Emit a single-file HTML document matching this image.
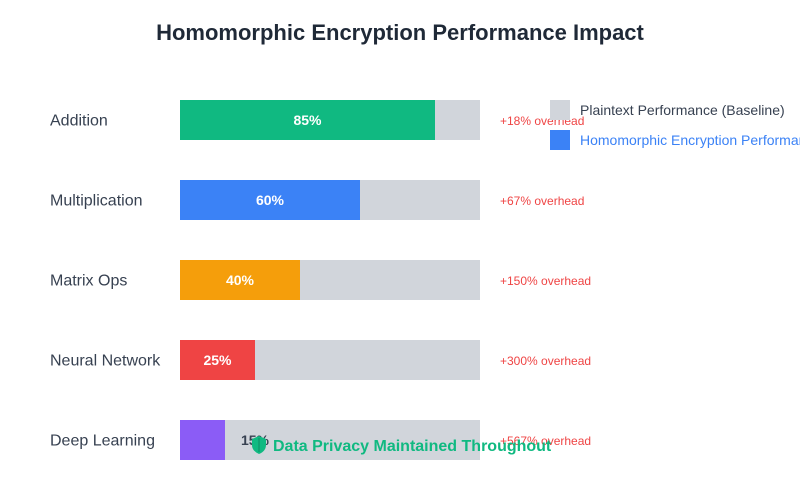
<!DOCTYPE html>
<html><head><meta charset="utf-8"><style>html,body{margin:0;padding:0;background:#fff}svg{display:block}</style></head>
<body>
<svg width="800" height="500" xmlns="http://www.w3.org/2000/svg" font-family="Liberation Sans, sans-serif">
<text x="400" y="40" text-anchor="middle" font-size="22" font-weight="bold" fill="#1f2937">Homomorphic Encryption Performance Impact</text>
<g font-size="16" fill="#374151">
<text x="50" y="125.5">Addition</text>
<text x="50" y="205.5">Multiplication</text>
<text x="50" y="285.5">Matrix Ops</text>
<text x="50" y="365.5">Neural Network</text>
<text x="50" y="445.5">Deep Learning</text>
</g>
<g fill="#d1d5db">
<rect x="180" y="100" width="300" height="40"/>
<rect x="180" y="180" width="300" height="40"/>
<rect x="180" y="260" width="300" height="40"/>
<rect x="180" y="340" width="300" height="40"/>
<rect x="180" y="420" width="300" height="40"/>
</g>
<rect x="180" y="100" width="255" height="40" fill="#10b981"/>
<rect x="180" y="180" width="180" height="40" fill="#3b82f6"/>
<rect x="180" y="260" width="120" height="40" fill="#f59e0b"/>
<rect x="180" y="340" width="75" height="40" fill="#ef4444"/>
<rect x="180" y="420" width="45" height="40" fill="#8b5cf6"/>
<g font-size="14" font-weight="bold" text-anchor="middle">
<text x="307.5" y="125" fill="#fff">85%</text>
<text x="270" y="205" fill="#fff">60%</text>
<text x="240" y="285" fill="#fff">40%</text>
<text x="217.5" y="365" fill="#fff">25%</text>
<text x="255" y="445" fill="#374151">15%</text>
</g>
<g font-size="12" fill="#ef4444">
<text x="500" y="125">+18% overhead</text>
<text x="500" y="205">+67% overhead</text>
<text x="500" y="285">+150% overhead</text>
<text x="500" y="365">+300% overhead</text>
<text x="500" y="445">+567% overhead</text>
</g>
<rect x="550" y="100" width="20" height="20" fill="#d1d5db"/>
<text x="580" y="115" font-size="14" fill="#374151">Plaintext Performance (Baseline)</text>
<rect x="550" y="130" width="20" height="20" fill="#3b82f6"/>
<text x="580" y="145" font-size="14" fill="#3b82f6">Homomorphic Encryption Performance</text>
<path d="M259 436 L266 439 L266 445 Q266 451 259 454 Q252 451 252 445 L252 439 Z" fill="#10b981"/>
<path d="M259 438 L259 452" stroke="#0d9468" stroke-width="1.2"/>
<text x="273" y="451" font-size="16" font-weight="bold" fill="#10b981">Data Privacy Maintained Throughout</text>
</svg>
</body></html>
